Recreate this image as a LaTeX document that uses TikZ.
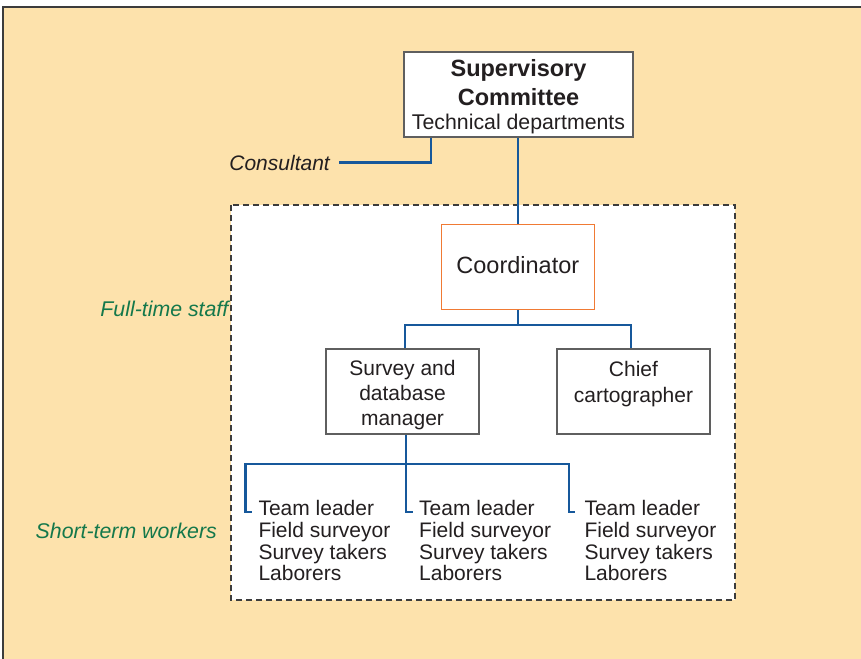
\documentclass[tikz,border=0pt]{standalone}
\usepackage{fontspec}
\setmainfont{Liberation Sans}
\definecolor{peach}{RGB}{253,226,172}
\definecolor{framec}{RGB}{60,60,60}
\definecolor{lineblue}{RGB}{22,88,155}
\definecolor{greenc}{RGB}{20,120,75}
\definecolor{orangec}{RGB}{240,122,52}
\definecolor{boxc}{RGB}{95,95,95}
\definecolor{txt}{RGB}{35,31,32}
\newcommand{\boxlines}[2]{\raisebox{#1}[\height][\depth]{\begin{tabular}{@{}c@{}}#2\end{tabular}}}
\tikzset{
  every node/.style={text=txt},
  box/.style={draw=boxc, line width=1.4pt, fill=white, inner sep=0pt,
              font=\fontsize{21}{25}\selectfont},
  conn/.style={draw=lineblue, line width=2.1pt},
  teamtext/.style={align=left, anchor=north west, inner sep=0pt,
              font=\fontsize{21}{21.7}\selectfont},
  grouplabel/.style={text=greenc, anchor=base east, inner sep=0pt,
              font=\fontsize{21.3}{25}\selectfont\itshape},
}
\begin{document}
\begin{tikzpicture}[x=1pt,y=-1pt]
\useasboundingbox (0,0) rectangle (861,658);
\fill[peach] (3,7) rectangle (875,675);
\draw[framec, line width=1.3pt] (3,675) -- (3,7) -- (875,7);
\draw[fill=white, draw=framec, line width=1.1pt, dash pattern=on 6pt off 4pt]
  (231,205) rectangle (735,600);

\node[box, minimum width=229, minimum height=85, font=\fontsize{21.3}{24.4}\selectfont] (sup) at (518.5,94.4)
  {\boxlines{-3.6pt}{\textbf{\fontsize{23.5}{24.4}\selectfont Supervisory}\\[4.6pt]
   \textbf{\fontsize{23.5}{24.4}\selectfont Committee}\\
   Technical departments}};
\node[box, draw=orangec, minimum width=153, minimum height=85,
      font=\fontsize{23.5}{26}\selectfont] (coord) at (517.8,266.7)
  {\raisebox{2pt}[\height][\depth]{Coordinator}};
\node[box, minimum width=153, minimum height=85] (mgr) at (402.5,391.4)
  {\boxlines{-3.6pt}{Survey and\\database\\manager}};
\node[box, minimum width=153, minimum height=85, font=\fontsize{21}{26}\selectfont] (chief) at (633.5,391.4)
  {\boxlines{7pt}{Chief\\cartographer}};

\node[anchor=base east, inner sep=0pt, font=\fontsize{21}{25}\selectfont\itshape] (cons) at (330,170) {Consultant};
\node[grouplabel] (full) at (228.5,316.5) {Full-time staff};
\node[grouplabel] (short) at (217,538.3) {Short-term workers};

\node[teamtext] (t1) at (258.3,500.2) {Team leader\\Field surveyor\\Survey takers\\Laborers};
\node[teamtext] (t2) at (419,500.2) {Team leader\\Field surveyor\\Survey takers\\Laborers};
\node[teamtext] (t3) at (584.3,500.2) {Team leader\\Field surveyor\\Survey takers\\Laborers};

% connectors
\draw[conn] ([xshift=9pt]cons.east) -| ([xshift=28pt]sup.south west);
\draw[conn] (sup.south -| coord.north) -- (coord.north);
\coordinate (split) at (517.8,325);
\draw[conn] (coord.south) -- (split);
\draw[conn] (mgr.north -| 405,0) |- (split) -| (chief.north -| 631,0);
\coordinate (j) at (406,464);
\coordinate (bl) at (245.5,464);
\coordinate (br) at (569,464);
\draw[conn] (mgr.south -| j) -- (j);
\draw[conn] ([shift={(-6.5,11.5)}]t1.north west) -| (bl) -- (br) |- ([shift={(-9,11.5)}]t3.north west);
\draw[conn] (j) |- ([shift={(-6.5,11.5)}]t2.north west);
\end{tikzpicture}
\end{document}
